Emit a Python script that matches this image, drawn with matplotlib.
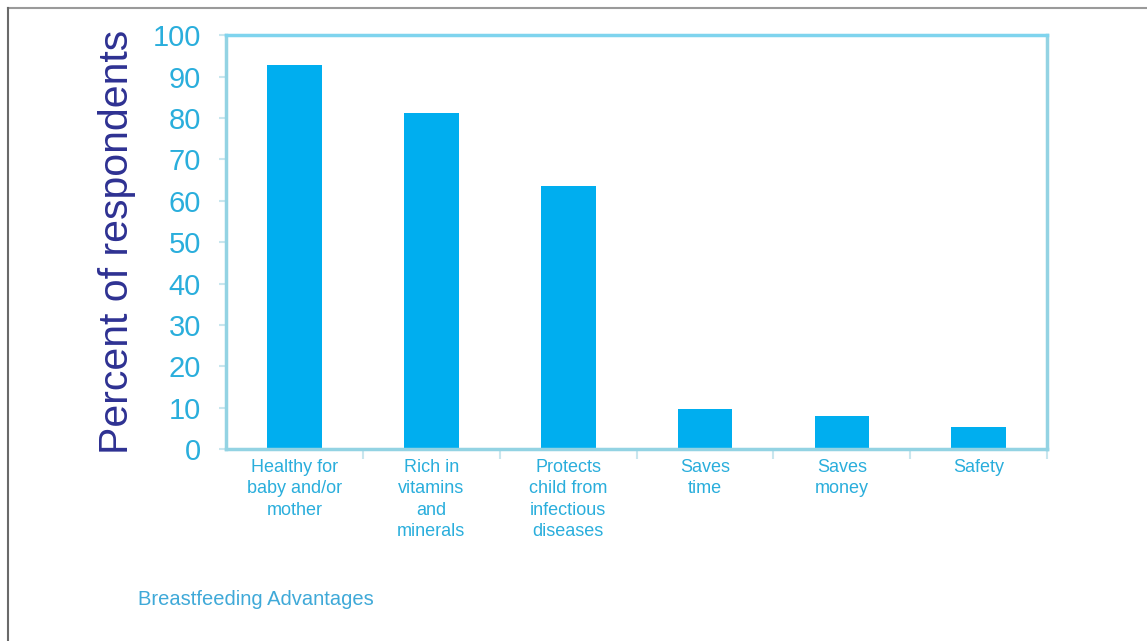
import matplotlib
matplotlib.use("Agg")
import matplotlib.pyplot as plt
from matplotlib.lines import Line2D
import numpy as np

# data
categories = [
    "Healthy for\nbaby and/or\nmother",
    "Rich in\nvitamins\nand\nminerals",
    "Protects\nchild from\ninfectious\ndiseases",
    "Saves\ntime",
    "Saves\nmoney",
    "Safety",
]
percent = [92.7, 81.2, 63.5, 9.7, 8.0, 5.3]
y_ticks = [0, 10, 20, 30, 40, 50, 60, 70, 80, 90, 100]

bar_color = "#00aeef"
spine_color = "#93d3e3"
tick_color = "#2aaedc"
label_color = "#2e3192"

plt.rcParams["font.family"] = ["Liberation Sans", "DejaVu Sans"]

fig = plt.figure(figsize=(11.47, 6.41), dpi=100)
ax = fig.add_axes([0.197, 0.2995, 0.716, 0.6455])

x = np.arange(len(categories))
ax.bar(x, percent, width=0.4, color=bar_color, zorder=2)

ax.set_xlim(-0.5, len(categories) - 0.5)
ax.set_ylim(0, 100)
ax.set_yticks(y_ticks)
ax.set_yticklabels([str(v) for v in y_ticks], fontsize=21, color=tick_color)
ax.tick_params(axis="y", length=5, width=1.5, color="#c8e6ee", pad=13)

# labels at bar centres, tick marks at category boundaries
ax.set_xticks(x)
ax.set_xticklabels(categories, fontsize=13, color=tick_color, linespacing=1.35)
ax.tick_params(axis="x", which="major", length=0, pad=7)
ax.set_xticks(np.arange(len(categories)) + 0.5, minor=True)
ax.tick_params(axis="x", which="minor", length=7, width=1.5, color="#c8e6ee")

for s in ax.spines.values():
    s.set_color(spine_color)
    s.set_linewidth(2.5)
ax.spines["top"].set_color("#7fd4ee")

ax.set_ylabel("Percent of respondents", fontsize=29.5, color=label_color, labelpad=12)

fig.text(0.12, 0.064, "Breastfeeding Advantages", fontsize=14.5, color="#3fa9d8",
         ha="left", va="center")

# grey frame of the original slide
fig.add_artist(Line2D([0.007, 1.0], [0.9875, 0.9875], transform=fig.transFigure,
                      color="#9a9a9a", lw=1.5))
fig.add_artist(Line2D([0.007, 0.007], [0.0, 0.9875], transform=fig.transFigure,
                      color="#6a6a6a", lw=1.5))

fig.savefig("out.png", dpi=100)
